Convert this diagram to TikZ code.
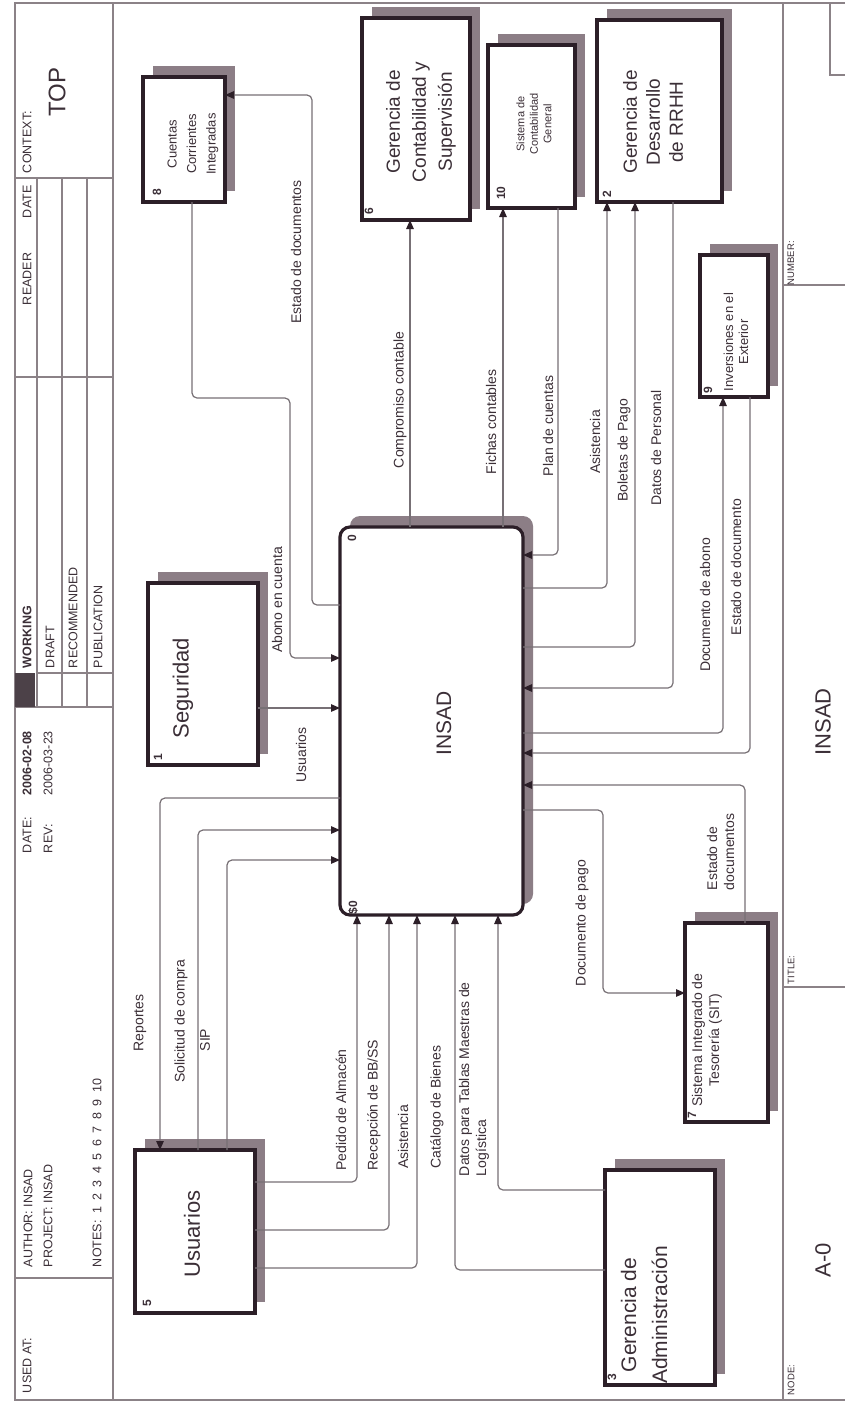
\documentclass[tikz,border=0pt]{standalone}
\usepackage{fontspec}
\setmainfont{Liberation Sans}
\usetikzlibrary{arrows.meta,shadows}
\definecolor{bord}{HTML}{2C1F28}
\definecolor{shd}{HTML}{8C7E86}
\definecolor{ln}{HTML}{777075}
\definecolor{txt}{HTML}{3B2F37}
\definecolor{frm}{HTML}{8B8287}
\newcommand\fsz[2]{\fontsize{#1}{#2}\selectfont}
\newcommand\gap{\hspace{6.5pt}}
\begin{document}
\begin{tikzpicture}[x=1pt,y=-1pt,
  every node/.style={text=txt, inner sep=0pt, outer sep=0pt},
  vt/.style={rotate=90},
  lbl/.style={vt, font=\fsz{14}{17}},
  hdr/.style={vt, anchor=west, font=\fsz{12.5}{15}},
  small/.style={vt, anchor=west, font=\fsz{9.5}{11}},
  num/.style={vt, font=\bfseries\fsz{12}{14}},
  box/.style={draw=bord, line width=3.2pt, fill=white,
    general shadow={fill=shd, shadow xshift=10pt, shadow yshift=11pt}},
  btxt/.style={vt, align=center},
  frame/.style={draw=frm, line width=1.1pt},
  flow/.style={draw=ln, line width=1.2pt, rounded corners=5pt},
  arr/.style={flow, -{Triangle[length=9pt,width=7.5pt,color=bord]}},
]
\useasboundingbox (0,0) rectangle (845,1405);
\clip (0,0) rectangle (845,1405);
\fill[white] (0,0) rectangle (845,1405);

% ---------- form frame ----------
\draw[frame] (15,3) rectangle (860,1400);
\draw[frame] (113,3) -- (113,1400);
\draw[frame] (783,3) -- (783,1400);
% header cells
\draw[frame] (15,178) -- (113,178);
\draw[frame] (15,377) -- (113,377);
\draw[frame] (15,707) -- (113,707);
\draw[frame] (15,1278) -- (113,1278);
\foreach \r in {37,62,87} \draw[frame] (\r,178) -- (\r,707);
\draw[frame] (37,673) -- (113,673);
\fill[bord!85] (15,673) rectangle (35,707);
% footer cells
\draw[frame] (783,285) -- (845,285);
\draw[frame] (783,987) -- (845,987);
\draw[frame] (830,3) -- (830,75) -- (845,75);

% ---------- header texts ----------
\node[hdr] (usedat) at (27,1393) {USED AT:};
\node[hdr] (author) at (28,1267) {AUTHOR: INSAD};
\node[hdr] (project) at (48,1267) {PROJECT: INSAD};
\node[hdr] (notes) at (97,1267) {NOTES:\gap 1\gap 2\gap 3\gap 4\gap 5\gap 6\gap 7\gap 8\gap 9\gap 10};
\node[hdr] (date) at (27,853) {DATE:};
\node[hdr, font=\bfseries\fsz{12.5}{15}] (dateval) at (27,795) {2006-02-08};
\node[hdr] (rev) at (48,853) {REV:};
\node[hdr] (revval) at (48,795) {2006-03-23};
\node[hdr, font=\bfseries\fsz{12.5}{15}] (working) at (27,668) {WORKING};
\node[hdr] (draft) at (50,668) {DRAFT};
\node[hdr] (recom) at (73,668) {RECOMMENDED};
\node[hdr] (public) at (98,668) {PUBLICATION};
\node[hdr] (reader) at (27,305) {READER};
\node[hdr] (rdate) at (27,218) {DATE};
\node[hdr] (context) at (27,173) {CONTEXT:};
\node[vt, font=\fsz{24}{28}] (top) at (57,92) {TOP};

% ---------- footer texts ----------
\node[small] (number) at (791,285) {NUMBER:};
\node[small] (titlel) at (791,984) {TITLE:};
\node[small] (nodel) at (791,1395) {NODE:};
\node[vt, font=\fsz{22}{26}] (title) at (823,722) {INSAD};
\node[vt, font=\fsz{22}{26}] (nodeid) at (823,1260) {A-0};

% ---------- activity boxes ----------
\node[box, rounded corners=10pt, minimum width=183pt, minimum height=388pt] (b0) at (431.5,721) {};
\node[box, minimum width=110pt, minimum height=182pt] (b1) at (203,674) {};
\node[box, minimum width=120pt, minimum height=163pt] (b5) at (195,1231.5) {};
\node[box, minimum width=82pt, minimum height=125pt] (b8) at (184,139.5) {};
\node[box, minimum width=108pt, minimum height=202pt] (b6) at (416,119) {};
\node[box, minimum width=87pt, minimum height=163pt] (b10) at (531.5,126.5) {};
\node[box, minimum width=125pt, minimum height=182pt] (b2) at (659.5,111) {};
\node[box, minimum width=68pt, minimum height=142pt] (b9) at (734,326) {};
\node[box, minimum width=83pt, minimum height=199pt] (b7) at (726.5,1022.5) {};
\node[box, minimum width=110pt, minimum height=215pt] (b3) at (660,1277.5) {};

% box titles
\node[btxt, font=\fsz{21}{25}] (t0) at (444,723) {INSAD};
\node[btxt, font=\fsz{22}{26}] (t1) at (183,688) {Seguridad};
\node[btxt, font=\fsz{22}{26}] (t5) at (192,1234) {Usuarios};
\node[btxt, font=\fsz{13}{19.5}] (t8) at (193,144) {Cuentas\\Corrientes\\Integradas};
\node[btxt, font=\fsz{19}{26}] (t6) at (421,122) {Gerencia de\\Contabilidad y\\Supervisión};
\node[btxt, font=\fsz{11}{13.5}] (t10) at (534,124) {Sistema de\\Contabilidad\\General};
\node[btxt, font=\fsz{19}{23}] (t2) at (653,122) {Gerencia de\\Desarrollo\\de RRHH};
\node[btxt, font=\fsz{13}{15}] (t9) at (736,342) {Inversiones en el\\Exterior};
\node[btxt, font=\fsz{14}{17}] (t7) at (707,1040) {Sistema Integrado de\\Tesorería (SIT)};
\node[btxt, font=\fsz{21}{31}] (t3) at (644,1315) {Gerencia de\\Administración};

% box numbers
\node[num] (n0) at (352,538) {0};
\node[num, anchor=west] (c0) at (353,914) {\$0};
\node[num] (n8) at (157,192) {8};
\node[num] (n6) at (369,211) {6};
\node[num] (n10) at (501,193) {10};
\node[num] (n2) at (607,194) {2};
\node[num] (n9) at (708,390) {9};
\node[num] (n1) at (158,757) {1};
\node[num] (n5) at (147,1303) {5};
\node[num] (n3) at (612,1377) {3};
\node[num] (n7) at (692,1115) {7};

% ---------- arrows ----------
% to/from the upper boxes
\draw[arr] (b0.west |- 0,605) -| (312,95) -- (b8.east |- 0,95);
\node[lbl] (l1) at (296,252) {Estado de documentos};
\draw[arr] (192,0 |- b8.south) |- (290,398) |- (b0.west |- 0,658);
\node[lbl] (l2) at (277,600) {Abono en cuenta};
\draw[arr] (b1.east |- 0,708) -- (b0.west |- 0,708);
\node[lbl] (l3) at (301,755) {Usuarios};
\draw[arr] (410,0 |- b0.north) -- (410,0 |- b6.south);
\node[lbl] (l21) at (400,400) {Compromiso contable};
\draw[arr] (503,0 |- b0.north) -- (503,0 |- b10.south);
\node[lbl] (l20) at (491,422) {Fichas contables};
\draw[arr] (558,0 |- b10.south) |- (b0.east |- 0,555);
\node[lbl] (l19) at (548,426) {Plan de cuentas};
\draw[arr] (b0.east |- 0,588) -| (607,0 |- b2.south);
\node[lbl] (l18) at (595,442) {Asistencia};
\draw[arr] (b0.east |- 0,647) -| (635,0 |- b2.south);
\node[lbl] (l17) at (624,450) {Boletas de Pago};
\draw[arr] (673,0 |- b2.south) |- (b0.east |- 0,688);
\node[lbl] (l16) at (656,448) {Datos de Personal};
\draw[arr] (b0.east |- 0,733) -| (723,0 |- b9.south);
\node[lbl] (l15) at (705,605) {Documento de abono};
\draw[arr] (750,0 |- b9.south) |- (b0.east |- 0,753);
\node[lbl] (l14) at (736,567) {Estado de documento};
% treasury
\draw[arr] (745,0 |- b7.north) |- (b0.east |- 0,785);
\node[lbl, align=left, anchor=north west] (l13) at (707,890) {Estado de\\documentos};
\draw[arr] (b0.east |- 0,810) -| (603,993) -- (b7.west |- 0,993);
\node[lbl] (l12) at (582,923) {Documento de pago};
% users
\draw[arr] (b0.west |- 0,798) -| (160,0 |- b5.north);
\node[lbl] (l4) at (140,1023) {Reportes};
\draw[arr] (198,0 |- b5.north) |- (b0.west |- 0,830);
\node[lbl] (l5) at (181,1021) {Solicitud de compra};
\draw[arr] (227,0 |- b5.north) |- (b0.west |- 0,860);
\node[lbl] (l6) at (205,1040) {SIP};
\draw[arr] (b5.east |- 0,1182) -| (357,0 |- b0.south);
\node[lbl] (l7) at (341,1110) {Pedido de Almacén};
\draw[arr] (b5.east |- 0,1230) -| (389,0 |- b0.south);
\node[lbl] (l8) at (374,1105) {Recepción de BB/SS};
\draw[arr] (b5.east |- 0,1268) -| (417,0 |- b0.south);
\node[lbl] (l9) at (403,1137) {Asistencia};
% administration
\draw[arr] (b3.west |- 0,1270) -| (455,0 |- b0.south);
\node[lbl] (l10) at (437,1107) {Catálogo de Bienes};
\draw[arr] (b3.west |- 0,1190) -| (498,0 |- b0.south);
\node[lbl, align=left, anchor=north west] (l11) at (459,1176) {Datos para Tablas Maestras de\\Logística};
\end{tikzpicture}
\end{document}
